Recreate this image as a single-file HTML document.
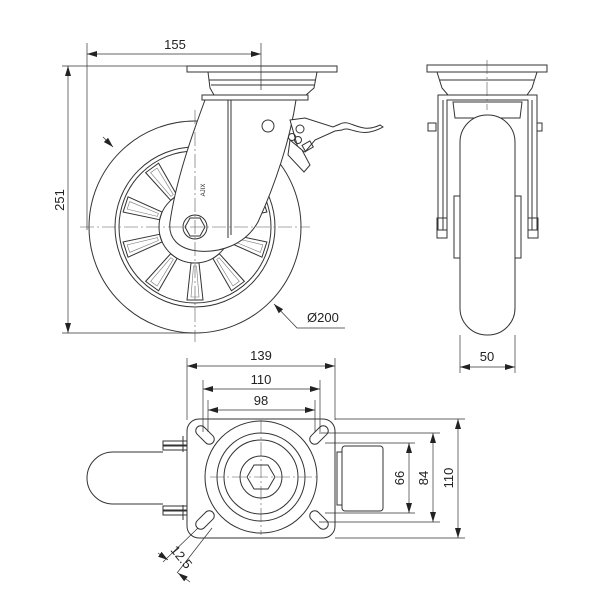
<!DOCTYPE html>
<html><head><meta charset="utf-8"><style>
html,body{margin:0;padding:0;background:#fff}
svg{display:block}
text{font-family:"Liberation Sans",sans-serif;font-size:13px;fill:#222}
</style></head><body>
<svg width="600" height="600" viewBox="0 0 600 600" xmlns="http://www.w3.org/2000/svg">
<defs>
<marker id="a" viewBox="0 0 10 6" refX="10" refY="3" markerWidth="10" markerHeight="6" orient="auto-start-reverse" markerUnits="userSpaceOnUse"><path d="M0,0 L10,3 L0,6 Z" fill="#222"/></marker>
<g id="spoke"><path d="M-4,-36 L4,-36 L8,-73 L-8,-73 Z" fill="none" stroke="#333" stroke-width="1"/><path d="M-1.5,-39 L-4,-70 L4,-70 L1.5,-39 Z" fill="none" stroke="#777" stroke-width="0.6"/></g>
</defs>
<g fill="none" stroke="#333" stroke-width="1">
<circle cx="195" cy="227" r="106"/>
<circle cx="195" cy="227" r="80"/>
<circle cx="195" cy="227" r="76"/>
<circle cx="195" cy="227" r="36"/>
<g transform="translate(195,227)">
<use href="#spoke" transform="rotate(0)"/><use href="#spoke" transform="rotate(36)"/><use href="#spoke" transform="rotate(72)"/><use href="#spoke" transform="rotate(108)"/><use href="#spoke" transform="rotate(144)"/><use href="#spoke" transform="rotate(180)"/><use href="#spoke" transform="rotate(216)"/><use href="#spoke" transform="rotate(252)"/><use href="#spoke" transform="rotate(288)"/><use href="#spoke" transform="rotate(324)"/>
</g>
<rect x="187" y="66" width="150" height="6" fill="#fff"/>
<path d="M208,72 L317,72 L314,88 L306,95 L214,95 L210,88 Z" fill="#fff"/>
<line x1="209" y1="80" x2="316" y2="80"/>
<line x1="211" y1="85" x2="314" y2="85"/>
<rect x="202" y="95" width="106" height="5" fill="#fff"/>
<path d="M205,100 L296,100 C290,140 275,185 258,222 C245,245 220,253 198,251 C178,249 168,238 170,222 C176,180 192,135 205,100 Z" fill="#fff"/>
<line x1="231" y1="100" x2="231" y2="235"/>
<line x1="228" y1="100" x2="228" y2="238"/>
<circle cx="268" cy="126" r="6"/>
<circle cx="195" cy="227" r="12" fill="#fff"/>
<polygon points="205,227 200,236 190,236 185,227 190,218 200,218"/>
<path d="M290,120 L305,118 L333,127 L340,124 C350,118 360,135 380,125 L383,127 C360,140 350,125 342,130 L335,131 L315,140 L305,152 L298,148 Z" fill="#fff"/>
<circle cx="300" cy="129" r="4"/><circle cx="292" cy="137" r="3.5"/><circle cx="298" cy="140" r="3.5"/>
<path d="M290,140 L302,150 L310,165 L304,172 L288,155 Z" fill="#fff"/>
<rect x="303" y="143" width="9" height="7" transform="rotate(-30 307 146)"/>
<g stroke="#555" stroke-width="0.6" stroke-dasharray="14,3,2,3"><line x1="80" y1="227" x2="310" y2="227"/><line x1="195" y1="110" x2="195" y2="342"/></g>
<g stroke="#333" stroke-width="0.7">
<line x1="87" y1="43" x2="87" y2="230"/><line x1="261" y1="43" x2="261" y2="90"/>
<line x1="87" y1="54" x2="261" y2="54" marker-start="url(#a)" marker-end="url(#a)"/>
<line x1="62" y1="66" x2="200" y2="66"/><line x1="62" y1="333" x2="195" y2="333"/>
<line x1="68" y1="66" x2="68" y2="333" marker-start="url(#a)" marker-end="url(#a)"/>
<line x1="103" y1="137" x2="113" y2="147" marker-end="url(#a)"/>
<polyline points="345,328 297,328 274,304" marker-end="url(#a)"/>
</g>
<rect x="427" y="65" width="120" height="7"/>
<path d="M437,72 L537,72 L532,88 L527,95 L448,95 L442,88 Z"/>
<line x1="440" y1="80" x2="534" y2="80"/>
<path d="M438,95 L537,95 L537,230 L528,230 L528,100 L447,100 L447,230 L438,230 Z"/>
<line x1="443" y1="100" x2="443" y2="230"/><line x1="532" y1="100" x2="532" y2="230"/>
<path d="M453,102 L522,102 L520,118 L455,118 Z"/>
<rect x="460" y="115" width="55" height="220" rx="27" fill="#fff"/>
<rect x="454" y="196" width="6" height="62"/><rect x="515" y="196" width="6" height="62"/>
<rect x="437" y="218" width="10" height="20"/><rect x="528" y="218" width="10" height="20"/>
<rect x="428" y="123" width="8" height="8"/><rect x="537" y="123" width="5" height="8"/>
<g stroke="#555" stroke-width="0.6" stroke-dasharray="14,3,2,3"><line x1="487" y1="60" x2="487" y2="110"/></g>
<g stroke="#333" stroke-width="0.7">
<line x1="460" y1="335" x2="460" y2="373"/><line x1="515" y1="335" x2="515" y2="373"/>
<line x1="460" y1="367" x2="515" y2="367" marker-start="url(#a)" marker-end="url(#a)"/>
</g>
<path d="M163,452 L113,452 A26,26 0 0 0 113,504 L163,504"/>
<rect x="163" y="441" width="24" height="4"/><rect x="163" y="446" width="24" height="4"/><line x1="183" y1="436" x2="183" y2="452"/>
<rect x="163" y="506" width="24" height="4"/><rect x="163" y="511" width="24" height="4"/><line x1="183" y1="505" x2="183" y2="520"/>
<rect x="187" y="419" width="148" height="119" rx="12" fill="#fff"/>
<circle cx="261" cy="477" r="56"/>
<circle cx="261" cy="477" r="44"/>
<circle cx="261" cy="477" r="37"/>
<circle cx="261" cy="477" r="21"/>
<polygon points="275,477 268,489 254,489 247,477 254,465 268,465"/>
<g transform="translate(205,435) rotate(45)"><rect x="-11" y="-5" width="22" height="10" rx="5"/></g>
<g transform="translate(319,435) rotate(-45)"><rect x="-11" y="-5" width="22" height="10" rx="5"/></g>
<g transform="translate(205,520) rotate(-45)"><rect x="-11" y="-5" width="22" height="10" rx="5"/></g>
<g transform="translate(319,520) rotate(45)"><rect x="-11" y="-5" width="22" height="10" rx="5"/></g>
<rect x="342" y="446" width="41" height="65" rx="3"/>
<rect x="337" y="452" width="5" height="53"/>
<g stroke="#555" stroke-width="0.6" stroke-dasharray="14,3,2,3"><line x1="210" y1="477" x2="320" y2="477"/><line x1="261" y1="420" x2="261" y2="535"/></g>
<g stroke="#333" stroke-width="0.7">
<line x1="187" y1="358" x2="187" y2="420"/><line x1="335" y1="358" x2="335" y2="420"/>
<line x1="187" y1="366" x2="335" y2="366" marker-start="url(#a)" marker-end="url(#a)"/>
<line x1="203" y1="380" x2="203" y2="432"/><line x1="320" y1="380" x2="320" y2="432"/>
<line x1="203" y1="389" x2="320" y2="389" marker-start="url(#a)" marker-end="url(#a)"/>
<line x1="208" y1="400" x2="208" y2="432"/><line x1="315" y1="400" x2="315" y2="432"/>
<line x1="208" y1="410" x2="315" y2="410" marker-start="url(#a)" marker-end="url(#a)"/>
<line x1="335" y1="419" x2="465" y2="419"/><line x1="335" y1="538" x2="465" y2="538"/>
<line x1="458" y1="419" x2="458" y2="538" marker-start="url(#a)" marker-end="url(#a)"/>
<line x1="319" y1="433" x2="440" y2="433"/><line x1="319" y1="522" x2="440" y2="522"/>
<line x1="433" y1="433" x2="433" y2="522" marker-start="url(#a)" marker-end="url(#a)"/>
<line x1="325" y1="443" x2="415" y2="443"/><line x1="325" y1="513" x2="415" y2="513"/>
<line x1="409" y1="443" x2="409" y2="513" marker-start="url(#a)" marker-end="url(#a)"/>
<line x1="198" y1="528" x2="163" y2="562"/><line x1="212" y1="528" x2="177" y2="573"/>
<line x1="158" y1="553" x2="168" y2="560" marker-end="url(#a)"/>
<line x1="190" y1="582" x2="178" y2="573" marker-end="url(#a)"/>
</g>
</g>
<text x="175" y="49" text-anchor="middle">155</text>
<text transform="translate(64,200) rotate(-90)" text-anchor="middle">251</text>
<text x="307" y="322">Ø200</text>
<text transform="translate(205,190) rotate(-90)" text-anchor="middle" style="font-size:6px">AJIX</text>
<text x="487" y="361" text-anchor="middle">50</text>
<text x="261" y="360" text-anchor="middle">139</text>
<text x="261" y="384" text-anchor="middle">110</text>
<text x="261" y="405" text-anchor="middle">98</text>
<text transform="translate(404,478) rotate(-90)" text-anchor="middle">66</text>
<text transform="translate(428,478) rotate(-90)" text-anchor="middle">84</text>
<text transform="translate(453,478) rotate(-90)" text-anchor="middle">110</text>
<text transform="translate(178,560) rotate(50)" text-anchor="middle">12.5</text>
</svg>
</body></html>
